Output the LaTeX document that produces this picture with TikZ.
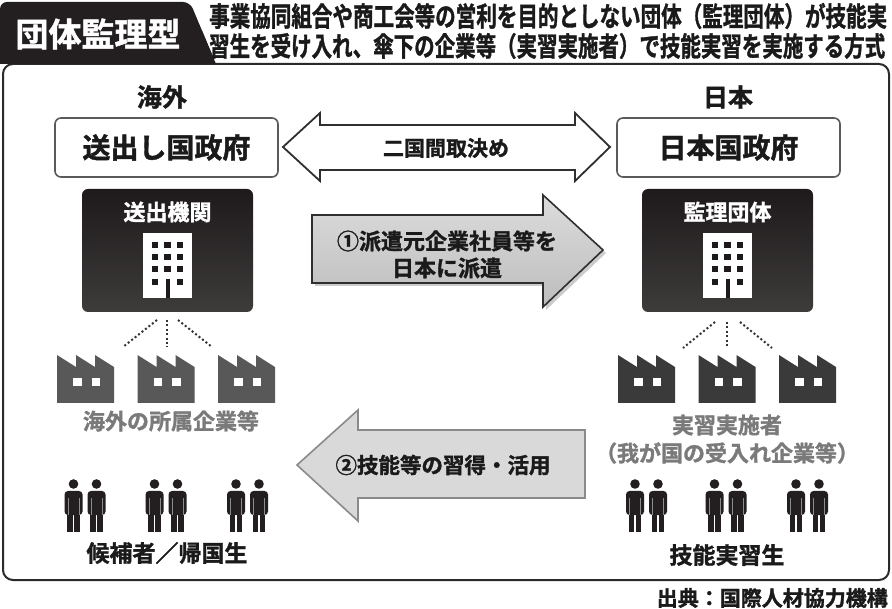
\documentclass[tikz,border=0pt]{standalone}
\usepackage{fontspec}
\setmainfont{Noto Sans CJK JP}[BoldFont={Noto Sans CJK JP Bold}, BoldFeatures={FakeBold=1.4}]
\usepackage{graphicx}
\newcommand\fsz[1]{\fontsize{#1}{#1}\selectfont\bfseries}
\definecolor{tabc}{HTML}{231F20}
\definecolor{framec}{HTML}{2A2A2A}
\definecolor{govborder}{HTML}{5A5A5A}
\definecolor{boxtop}{HTML}{1E1A1B}
\definecolor{boxbot}{HTML}{3E3B3B}
\definecolor{factL}{HTML}{585858}
\definecolor{factR}{HTML}{3A3A3A}
\definecolor{labelgrey}{HTML}{7A7A7A}
\definecolor{txt}{HTML}{1A1A1A}
\definecolor{personc}{HTML}{231F20}
\definecolor{arrAtop}{HTML}{DCDCDC}
\definecolor{arrAbot}{HTML}{BDBDBD}
\definecolor{arrAline}{HTML}{2F2F2F}
\definecolor{arrBfill}{HTML}{D9D9D9}
\definecolor{arrBline}{HTML}{8A8A8A}
\tikzset{
  txtnode/.style={inner sep=0pt, text=txt},
  govbox/.style={draw=govborder, line width=1.6pt, fill=white, rounded corners=6pt,
    minimum width=223pt, minimum height=59pt, inner sep=0pt, text=txt, font=\fsz{28}},
  darkbox/.style={rounded corners=6pt, top color=boxtop, bottom color=boxbot,
    minimum width=171pt, minimum height=123pt, inner sep=0pt},
  dotline/.style={draw=black!80, line width=2pt, dash pattern=on 2pt off 2.4pt},
  building/.pic={
    \fill[white] (-24.5,0) rectangle (24.5,65);
    \foreach \r in {12,24,36} {
      \foreach \c in {-12.5,0,12.5} {
        \fill[boxtop] (\c-3.25,\r-3.25) rectangle ++(6.5,6.5);
      }
    }
    \fill[boxtop] (-12.5-3.25,49-3.25) rectangle ++(6.5,6.5);
    \fill[boxtop] (12.5-3.25,49-3.25) rectangle ++(6.5,6.5);
    \fill[boxtop] (-2,46) rectangle (2,65);
  },
  factory/.pic={
    \path[pic actions] (0,48) -- (0,0) -- (19,12) -- (19,0) -- (38,12) -- (38,0)
      -- (57,12) -- (57,48) -- cycle;
    \fill[white] (16,23) rectangle (24.5,31.5);
    \fill[white] (34.5,23) rectangle (43,31.5);
    \coordinate (-top) at (28.5,0);
  },
  person/.pic={
    \fill[personc] (0,0) circle (4.8);
    \fill[personc, rounded corners=3.5pt] (-9,7) rectangle (9,31);
    \fill[personc] (-6.2,26) rectangle (-0.7,48);
    \fill[personc] (0.7,26) rectangle (6.2,48);
    \draw[black!45, line width=0.6pt] (-5.6,14) -- (-5.6,31) (5.6,14) -- (5.6,31);
  },
  pair/.pic={
    \pic at (-11.5,0) {person};
    \pic at (11.5,0) {person};
  }
}
\begin{document}
\begin{tikzpicture}[x=1pt,y=-1pt]
\useasboundingbox[fill=white] (0,0) rectangle (892,609);
% frame
\draw[framec, line width=2pt, rounded corners=10pt] (3,64) rectangle (889,580);
% tab
\fill[tabc, rounded corners=7pt] (0,2) -- (190,2) -- (216,64) -- (0,64) -- cycle;
\fill[tabc] (0,30) -- (201.7,30) -- (216,64) -- (0,64) -- cycle;
\node[inner sep=0pt, text=white, font=\fsz{33}] (tab) at (98,34) {\resizebox{165pt}{\height}{団体監理型}};
% header
\node[txtnode, anchor=west, font=\fsz{27}] (h1) at (209,16)
  {\resizebox{678pt}{\height}{事業協同組合や商工会等の営利を目的としない団体（監理団体）が技能実}};
\node[txtnode, anchor=west, font=\fsz{27}] (h2) at (209,46)
  {\resizebox{676pt}{\height}{習生を受け入れ、傘下の企業等（実習実施者）で技能実習を実施する方式}};
% region titles
\node[txtnode, font=\fsz{25}] (kaigai) at (162,97) {海外};
\node[txtnode, font=\fsz{25}] (nihon) at (728,97) {日本};
% government boxes
\node[govbox] (sgov) at (166.5,147.5) {送出し国政府};
\node[govbox] (jgov) at (728.5,147.5) {日本国政府};
% double arrow
\draw[fill=white, draw=arrAline, line width=1.8pt, line join=miter]
  (283,147) -- (320,113) -- (320,125) -- (575,125) -- (575,113) -- (610,147)
  -- (575,181) -- (575,170) -- (320,170) -- (320,181) -- cycle;
\node[txtnode, font=\fsz{21}] (torikime) at (446,148) {二国間取決め};
% dark boxes
\node[darkbox] (sbox) at (167.5,250.5) {};
\node[inner sep=0pt, text=white, font=\fsz{22}] (sboxt) at (167.5,212) {送出機関};
\pic at (167.5,233) {building};
\node[darkbox] (kbox) at (727.5,250.5) {};
\node[inner sep=0pt, text=white, font=\fsz{22}] (kboxt) at (727.5,212) {監理団体};
\pic at (727.5,233) {building};
% arrow 1
\fill[black!20] (315,218) -- (546,218) -- (546,198) -- (606,253) -- (546,310) -- (546,286) -- (315,286) -- cycle;
\draw[top color=arrAtop, bottom color=arrAbot, draw=arrAline, line width=1.6pt, line join=miter]
  (312,215) -- (543,215) -- (543,195) -- (603,250) -- (543,307) -- (543,283) -- (312,283) -- cycle;
\node[txtnode, font=\fsz{22}] (a1l1) at (447,241) {①派遣元企業社員等を};
\node[txtnode, font=\fsz{22}] (a1l2) at (447,268) {日本に派遣};
% arrow 2
\draw[fill=arrBfill, draw=arrBline, line width=1.6pt, line join=miter]
  (297,465) -- (358,410) -- (358,430) -- (585,430) -- (585,498) -- (358,498) -- (358,521) -- cycle;
\node[txtnode, font=\fsz{21.5}] (a2) at (443,465) {②技能等の習得・活用};
% factories
\pic[fill=factL] (fL1) at (57,355) {factory};
\pic[fill=factL] (fL2) at (137.5,355) {factory};
\pic[fill=factL] (fL3) at (218,355) {factory};
\pic[fill=factR] (fR1) at (618,355) {factory};
\pic[fill=factR] (fR2) at (698.5,355) {factory};
\pic[fill=factR] (fR3) at (779,355) {factory};
% dotted connectors
\coordinate (dL1) at (123,347); \coordinate (dL2) at (167,347); \coordinate (dL3) at (212,347);
\coordinate (sL1) at (157,320); \coordinate (sL2) at (167,320); \coordinate (sL3) at (178,320);
\coordinate (dR1) at (683,348); \coordinate (dR2) at (727,348); \coordinate (dR3) at (772,348);
\coordinate (sR1) at (715,322); \coordinate (sR2) at (727,322); \coordinate (sR3) at (740,322);
\draw[dotline] (sL1) -- (dL1);
\draw[dotline] (sL2) -- (dL2);
\draw[dotline] (sL3) -- (dL3);
\draw[dotline] (sR1) -- (dR1);
\draw[dotline] (sR2) -- (dR2);
\draw[dotline] (sR3) -- (dR3);
% factory labels
\node[inner sep=0pt, text=labelgrey, font=\fsz{22}] (lblL) at (171,421) {海外の所属企業等};
\node[inner sep=0pt, text=labelgrey, font=\fsz{22}] (lblR1) at (727,425) {実習実施者};
\node[inner sep=0pt, text=labelgrey, font=\fsz{22}] (lblR2) at (727,453) {（我が国の受入れ企業等）};
% people
\pic at (85,484) {pair};
\pic at (166,484) {pair};
\pic at (247.5,484) {pair};
\pic at (646.5,484) {pair};
\pic at (726,484) {pair};
\pic at (807.5,484) {pair};
\node[txtnode, font=\fsz{23}] (kouho) at (167,553) {候補者／帰国生};
\node[txtnode, font=\fsz{23}] (ginou) at (727,555) {技能実習生};
% source
\node[txtnode, anchor=east, font=\fsz{21}] (src) at (888,598) {出典：国際人材協力機構};
\end{tikzpicture}
\end{document}
